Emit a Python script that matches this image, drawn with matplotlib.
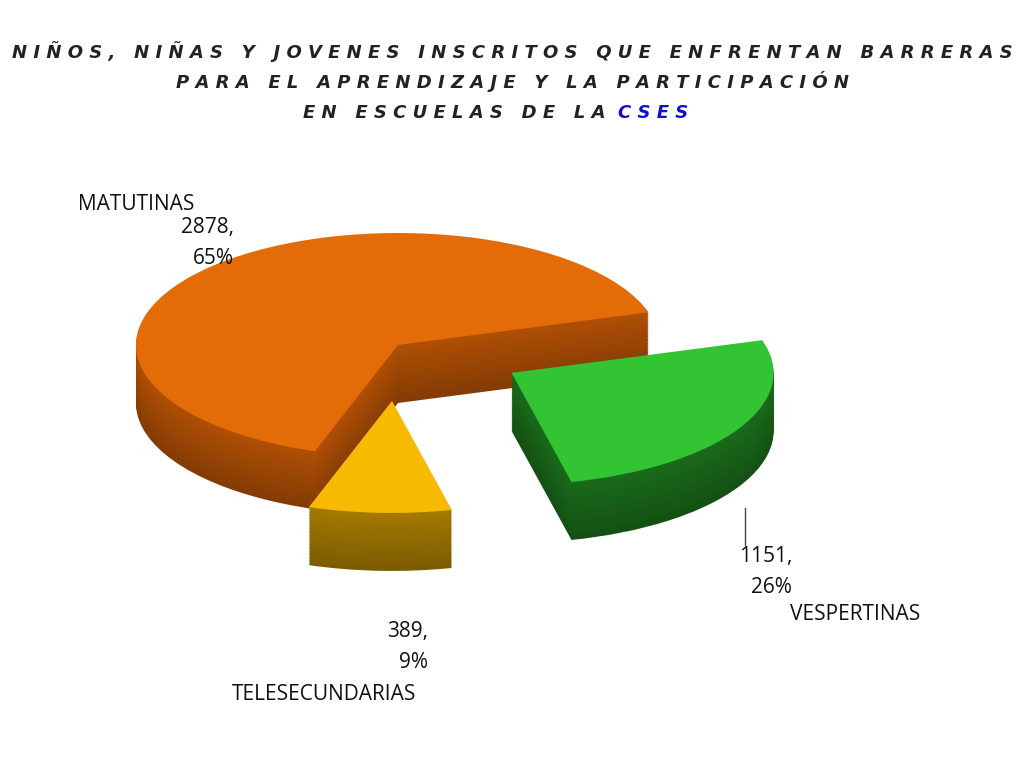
import matplotlib
matplotlib.use("Agg")
import matplotlib.pyplot as plt
import numpy as np
from matplotlib.colors import to_rgb

categories = ["MATUTINAS", "TELESECUNDARIAS", "VESPERTINAS"]
values = [2878, 389, 1151]
percents = ["65%", "9%", "26%"]
colors = ["#E36C09", "#F8BA00", "#33C433"]
side_colors = ["#B04F05", "#A57A00", "#1A6B1A"]
explode = [0.0, 0.5, 0.5]

W, H = 1024, 768
fig = plt.figure(figsize=(10.24, 7.68), dpi=100)
ax = fig.add_axes([0, 0, 1, 1])
cx, cy, rx, ry, depth = 398, 345, 262, 112, 58

nl = 40
for k in range(nl, -1, -1):
    off = depth / ry * k / nl
    if k == 0:
        cols = colors
    else:
        f = 0.75 + 0.25 * (1 - k / nl)
        cols = [tuple(min(1, c * f) for c in to_rgb(sc)) for sc in side_colors]
    ax.pie(values, colors=cols, startangle=17, counterclock=True, explode=explode,
           center=(0, -off), wedgeprops=dict(linewidth=0), normalize=True)
ax.set_aspect("auto")
ax.set_xlim(-cx / rx, (W - cx) / rx)
ax.set_ylim(-(H - cy) / ry, cy / ry)
ax.axis("off")

def P(x, y):
    return x / W, 1 - y / H

fkw = dict(fontsize=15, family="Open Sans", color="#111111", transform=fig.transFigure)
fig.text(*P(78, 204), categories[0], ha="left", va="center", **fkw)
fig.text(*P(234, 243), f"{values[0]},\n{percents[0]}", ha="right", va="center", linespacing=1.6, **fkw)
fig.text(*P(792, 572), f"{values[2]},\n{percents[2]}", ha="right", va="center", linespacing=1.6, **fkw)
fig.text(*P(790, 615), categories[2], ha="left", va="center", **fkw)
fig.text(*P(428, 647), f"{values[1]},\n{percents[1]}", ha="right", va="center", linespacing=1.6, **fkw)
fig.text(*P(232, 694), categories[1], ha="left", va="center", **fkw)
fig.add_artist(plt.Line2D([745/W, 745/W], [1-508/H, 1-545/H], color="#444444", lw=1))

def sp(s):
    return " ".join(s)

tkw = dict(fontsize=13, fontweight="bold", fontstyle="italic", family="DejaVu Sans", va="center")
fig.text(0.5, 1 - 52/H, sp("NIÑOS, NIÑAS Y JOVENES INSCRITOS QUE ENFRENTAN BARRERAS"), color="#222222", ha="center", **tkw)
fig.text(0.5, 1 - 82/H, sp("PARA EL APRENDIZAJE Y LA PARTICIPACIÓN"), color="#222222", ha="center", **tkw)
fig.text(618/W, 1 - 113/H, sp("EN ESCUELAS DE LA") + "  ", color="#222222", ha="right", **tkw)
fig.text(618/W, 1 - 113/H, sp("CSES"), color="#1010CC", ha="left", **tkw)

fig.savefig("out.png", dpi=100)
